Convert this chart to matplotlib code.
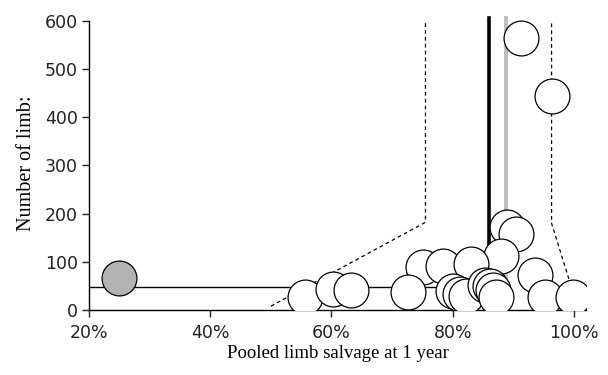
import matplotlib
matplotlib.use("Agg")
import matplotlib.pyplot as plt
from matplotlib.ticker import FuncFormatter

# study points: pooled limb salvage (fraction) vs number of limbs
salvage = [0.912, 0.963, 0.889, 0.904, 0.880, 0.751, 0.784, 0.830,
           0.556, 0.602, 0.632, 0.726, 0.800, 0.812, 0.822, 0.853,
           0.861, 0.866, 0.872, 0.935, 0.952, 0.999]
limbs = [565, 445, 173, 158, 112, 90, 92, 95,
         27, 43, 41, 38, 40, 33, 30, 52,
         50, 42, 27, 73, 28, 28]

# outlier study (grey)
grey_salvage = [0.25]
grey_limbs = [66]

# pooled estimates and reference line
pooled_black = 0.86
pooled_grey = 0.888
ref_level = 48

# funnel (confidence limits)
funnel_left_x = [0.50, 0.755, 0.755]
funnel_left_y = [8, 182, 600]
funnel_right_x = [1.005, 0.963, 0.963]
funnel_right_y = [10, 180, 600]

xticks = [0.2, 0.4, 0.6, 0.8, 1.0]
yticks = [0, 100, 200, 300, 400, 500, 600]

fig = plt.figure(figsize=(6.08, 3.75), dpi=100)
ax = fig.add_axes([0.1464, 0.1733, 0.8176, 0.784])

ax.plot([0.2, pooled_black], [ref_level, ref_level], color="black", lw=1.0, zorder=1)
ax.plot([pooled_black, pooled_black], [ref_level, 606], color="black", lw=2.6, zorder=1, clip_on=False)
ax.plot([pooled_grey, pooled_grey], [ref_level, 606], color="#bdbdbd", lw=2.8, zorder=1, clip_on=False)
ax.plot(funnel_left_x, funnel_left_y, color="black", lw=0.9, ls=(0, (3, 2.5)), zorder=1)
ax.plot(funnel_right_x, funnel_right_y, color="black", lw=0.9, ls=(0, (3, 2.5)), zorder=1)

ax.scatter(salvage, limbs, s=630, facecolor="white", edgecolor="black", linewidth=0.9, zorder=3)
ax.scatter(grey_salvage, grey_limbs, s=630, facecolor="#b3b3b3", edgecolor="black", linewidth=0.9, zorder=3)

ax.set_xlim(0.2, 1.02)
ax.set_ylim(0, 610)
ax.set_xticks(xticks)
ax.set_yticks(yticks)
ax.xaxis.set_major_formatter(FuncFormatter(lambda v, _: f"{v * 100:.0f}%"))

for side in ["top", "right"]:
    ax.spines[side].set_visible(False)
ax.spines["left"].set_bounds(0, 600)
ax.spines["left"].set_linewidth(1.0)
ax.spines["bottom"].set_linewidth(1.0)
ax.tick_params(direction="out", length=5, width=1.0, labelsize=12.5, pad=3, colors="#222222")
ax.tick_params(axis="x", pad=5)

ax.set_xlabel("Pooled limb salvage at 1 year", family="Liberation Serif", fontsize=13.5, labelpad=2)
ax.set_ylabel("Number of limb:", family="Liberation Serif", fontsize=14.5, labelpad=6)

fig.savefig("out.png", dpi=100)
